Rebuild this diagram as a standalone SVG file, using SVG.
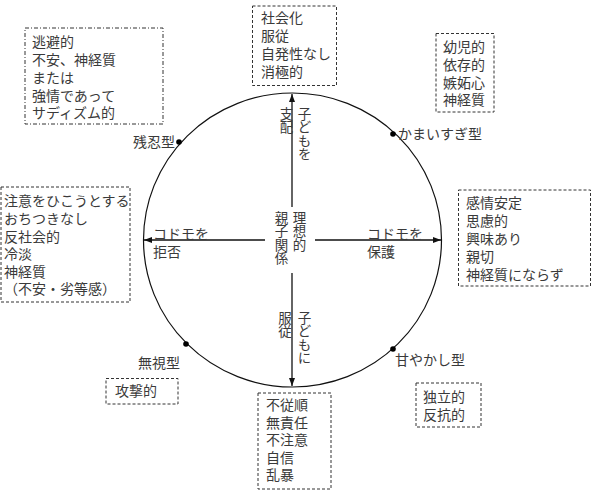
<svg xmlns="http://www.w3.org/2000/svg" width="598" height="492" viewBox="0 0 598 492">
<defs>
<style>
text{font-family:"Liberation Sans","Noto Sans CJK JP","Noto Sans CJK SC",sans-serif;font-size:14px;fill:#3a3a3a}
.v{writing-mode:vertical-rl;text-orientation:upright;font-size:13.5px}
.box{fill:none;stroke:#333;stroke-width:1;stroke-dasharray:3 2}
.boxdd{fill:none;stroke:#333;stroke-width:1;stroke-dasharray:4 2 1 2}
.axis{stroke:#111;stroke-width:1.3;fill:none;marker-end:url(#arr)}
.dot{fill:#000}
</style>
<marker id="arr" viewBox="0 0 8 6" refX="8" refY="3" markerWidth="8" markerHeight="6" markerUnits="userSpaceOnUse" orient="auto">
<path d="M0,0 L8,3 L0,6 Z" fill="#111"/>
</marker>
</defs>

<g id="circle">
<ellipse cx="292.5" cy="240" rx="149" ry="147" fill="none" stroke="#111" stroke-width="1.2"/>
</g>

<g id="connectors">
<line class="axis" x1="292" y1="207" x2="292" y2="94"/>
<line class="axis" x1="292" y1="273" x2="292" y2="386"/>
<line class="axis" x1="265" y1="240" x2="144" y2="240"/>
<line class="axis" x1="315" y1="240" x2="441" y2="240"/>
</g>

<g id="center">
<text class="v" x="280" y="211">親子関係</text>
<text class="v" x="298" y="211">理想的</text>
</g>

<g id="label-top">
<text class="v" x="285" y="107">支配</text>
<text class="v" x="303" y="107">子どもを</text>
</g>

<g id="label-bottom">
<text class="v" x="283.5" y="311">服従</text>
<text class="v" x="303" y="311">子どもに</text>
</g>

<g id="label-left">
<text x="153" y="239">コドモを</text>
<text x="153" y="257">拒否</text>
</g>

<g id="label-right">
<text x="367" y="239">コドモを</text>
<text x="367" y="257">保護</text>
</g>

<g id="type-zannin">
<circle class="dot" cx="179" cy="142" r="2.8"/>
<text x="133" y="147">残忍型</text>
</g>
<g id="type-kamai">
<circle class="dot" cx="393" cy="134" r="2.8"/>
<text x="398" y="139">かまいすぎ型</text>
</g>
<g id="type-mushi">
<circle class="dot" cx="186" cy="344" r="2.8"/>
<text x="138" y="368">無視型</text>
</g>
<g id="type-amayakashi">
<circle class="dot" cx="393" cy="349" r="2.8"/>
<text x="395" y="365">甘やかし型</text>
</g>

<g id="box-topleft">
<rect class="boxdd" x="25" y="28" width="138" height="96"/>
<text x="32" y="47">逃避的</text>
<text x="32" y="65">不安、神経質</text>
<text x="32" y="82.5">または</text>
<text x="32" y="100.5">強情であって</text>
<text x="32" y="118">サディズム的</text>
</g>

<g id="box-top">
<rect class="box" x="252.5" y="6" width="84" height="79.5"/>
<text x="261" y="23">社会化</text>
<text x="261" y="41">服従</text>
<text x="261" y="59">自発性なし</text>
<text x="261" y="77">消極的</text>
</g>

<g id="box-topright">
<rect class="box" x="436" y="33.5" width="58" height="78.5"/>
<text x="443" y="52">幼児的</text>
<text x="443" y="70">依存的</text>
<text x="443" y="87.5">嫉妬心</text>
<text x="443" y="105">神経質</text>
</g>

<g id="box-left">
<rect class="box" x="1" y="187" width="129" height="115"/>
<text x="4" y="206">注意をひこうとする</text>
<text x="4" y="224">おちつきなし</text>
<text x="4" y="242">反社会的</text>
<text x="4" y="259">冷淡</text>
<text x="4" y="277">神経質</text>
<text x="4" y="294">（不安・劣等感）</text>
</g>

<g id="box-right">
<rect class="box" x="458.5" y="190" width="132" height="96"/>
<text x="466" y="208">感情安定</text>
<text x="466" y="226">思慮的</text>
<text x="466" y="244">興味あり</text>
<text x="466" y="261.5">親切</text>
<text x="466" y="280">神経質にならず</text>
</g>

<g id="box-kougeki">
<rect class="box" x="106" y="378.5" width="72" height="25.5"/>
<text x="115" y="396">攻撃的</text>
</g>

<g id="box-bottom">
<rect class="box" x="258" y="393" width="73" height="96"/>
<text x="266" y="410">不従順</text>
<text x="266" y="428">無責任</text>
<text x="266" y="445">不注意</text>
<text x="266" y="463">自信</text>
<text x="266" y="480">乱暴</text>
</g>

<g id="box-bottomright">
<rect class="box" x="416" y="383" width="65" height="44"/>
<text x="423" y="402">独立的</text>
<text x="423" y="420">反抗的</text>
</g>
</svg>
